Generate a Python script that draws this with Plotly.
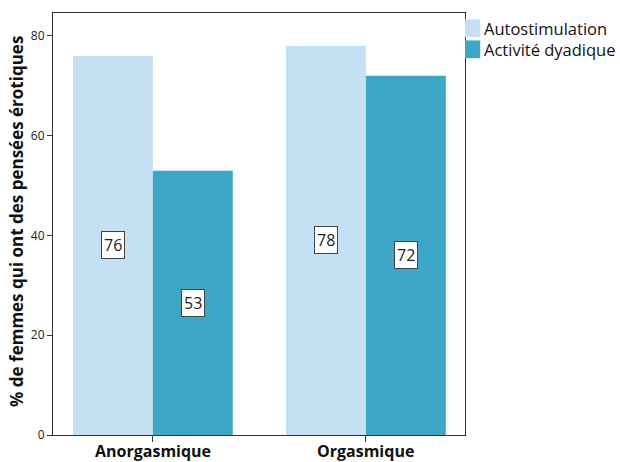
import plotly.graph_objects as go

# Data
categories = ["Anorgasmique", "Orgasmique"]
series_names = ["Autostimulation", "Activité dyadique"]
autostimulation = [76, 78]
activite_dyadique = [53, 72]
y_ticks = [0, 20, 40, 60, 80]
y_title = "% de femmes qui ont des pensées érotiques"

colors = ["#C6E0F3", "#3CA7C6"]
values = [autostimulation, activite_dyadique]

FONT = "Open Sans"
fig = go.Figure()

bar_width = 0.375
for i, (name, vals) in enumerate(zip(series_names, values)):
    fig.add_trace(go.Bar(
        x=list(range(len(categories))), y=vals, name=name,
        marker=dict(color=colors[i], line=dict(width=0)),
        width=bar_width, offset=-bar_width + i * bar_width,
        showlegend=False,
    ))
    # Boxed value labels at half bar height
    for j, v in enumerate(vals):
        fig.add_annotation(
            x=j - bar_width / 2 + i * bar_width, y=v / 2, text=str(v),
            showarrow=False, bgcolor="white", bordercolor="#444",
            borderwidth=1, borderpad=2,
            font=dict(family=FONT, size=16, color="#222"),
        )

# Category labels under the axis
for j, c in enumerate(categories):
    fig.add_annotation(x=j, y=0, yref="y", text=f"<b>{c}</b>",
                       showarrow=False, yanchor="middle", yshift=-15.5,
                       font=dict(family=FONT, size=16, color="#111"))

# Vertical axis title
fig.add_annotation(xref="paper", yref="paper", x=0, y=0.505,
                   xanchor="center", yanchor="middle", xshift=-36,
                   textangle=-90, text=f"<b>{y_title}</b>", showarrow=False,
                   font=dict(family=FONT, size=17, color="#111"))

# Legend drawn as swatches + labels on the right
for i, name in enumerate(series_names):
    y0 = 0.985 - i * 0.05
    fig.add_shape(type="rect", xref="paper", yref="paper",
                  x0=1.0, x1=1.037, y0=y0 - 0.042, y1=y0,
                  fillcolor=colors[i], line=dict(width=0))
    fig.add_annotation(xref="paper", yref="paper", x=1.042, y=y0 - 0.021,
                       xanchor="left", yanchor="middle", text=name,
                       showarrow=False,
                       font=dict(family=FONT, size=16.5, color="#111"))

fig.update_layout(
    width=620, height=462,
    margin=dict(l=53, r=155, t=13, b=27),
    plot_bgcolor="white", paper_bgcolor="white",
    font=dict(family=FONT, color="#222"),
    bargap=0.25,
    xaxis=dict(
        tickmode="array", tickvals=list(range(len(categories))),
        showticklabels=False,
        range=[-0.469, 1.465], showline=True, linecolor="#333", linewidth=1,
        mirror=True, ticks="outside", ticklen=6, tickcolor="#333",
        showgrid=False, zeroline=False, automargin=False,
    ),
    yaxis=dict(
        range=[0, 84.6], tickvals=y_ticks, showline=True, linecolor="#333",
        linewidth=1, mirror=True, ticks="outside", ticklen=5, tickcolor="#333",
        tickfont=dict(family=FONT, size=12, color="#222"), showgrid=False,
        zeroline=False, automargin=False,
    ),
)

fig.write_html("out.html")
